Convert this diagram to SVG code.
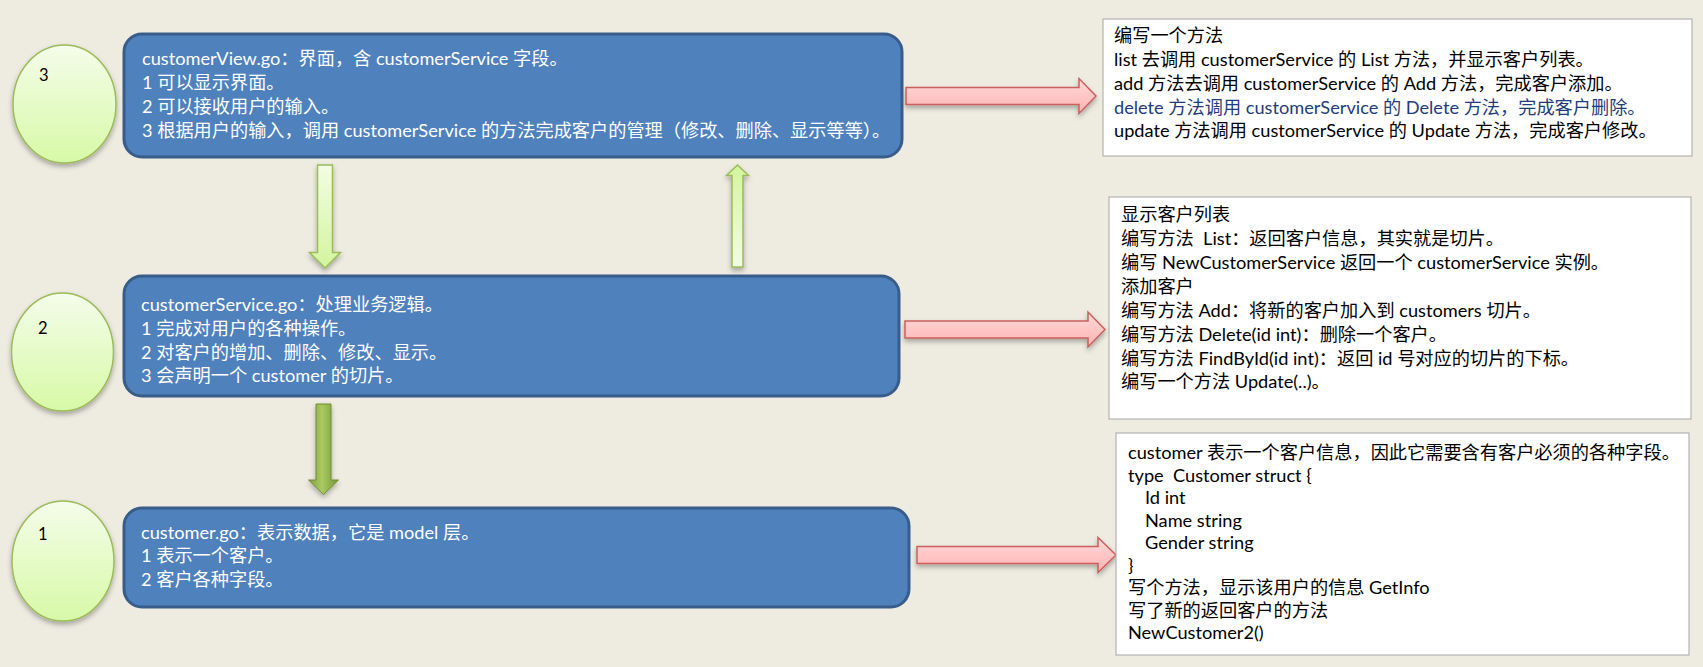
<svg xmlns="http://www.w3.org/2000/svg" width="1703" height="667" viewBox="0 0 1703 667">
<defs>
<linearGradient id="gEll" x1="0" y1="0" x2="0" y2="1">
<stop offset="0" stop-color="#F4FDEA"/><stop offset="1" stop-color="#D7F9A6"/>
</linearGradient>
<linearGradient id="gDown" x1="0" y1="0" x2="0" y2="1">
<stop offset="0" stop-color="#F2FCE4"/><stop offset="1" stop-color="#D3F59E"/>
</linearGradient>
<linearGradient id="gUp" x1="0" y1="1" x2="0" y2="0">
<stop offset="0" stop-color="#F2FCE4"/><stop offset="1" stop-color="#D3F59E"/>
</linearGradient>
<linearGradient id="gDark" x1="0" y1="0" x2="1" y2="0">
<stop offset="0" stop-color="#819F40"/><stop offset="0.45" stop-color="#A8CA5F"/><stop offset="1" stop-color="#77963A"/>
</linearGradient>
<linearGradient id="gPink" x1="0" y1="0" x2="0" y2="1">
<stop offset="0" stop-color="#FFDADA"/><stop offset="0.5" stop-color="#FFC6C6"/><stop offset="1" stop-color="#FFB2B2"/>
</linearGradient>
<filter id="sh" x="-20%" y="-20%" width="140%" height="150%">
<feDropShadow dx="0" dy="3" stdDeviation="2.5" flood-color="#000" flood-opacity="0.3"/>
</filter>
</defs>
<style>
.bg{fill:#EEECE1}
.ell{fill:url(#gEll);stroke:#9BBB59;stroke-width:1.5;filter:url(#sh)}
.box{fill:#4F81BD;stroke:#385D8A;stroke-width:3}
.tb{fill:#FFFFFF;stroke:#A6A6A6;stroke-width:1}
text{font-family:Lato,"Noto Sans CJK SC",sans-serif;font-size:18.2px;white-space:pre}
.wt{fill:#FFFFFF}
.bk{fill:#000000}
.nv{fill:#1F3C7A}
.num{fill:#000000;font-size:16.5px}
.pink{fill:url(#gPink);stroke:#C9605D;stroke-width:1.5;filter:url(#sh)}
.lg{stroke:#9BBB59;stroke-width:1.5;filter:url(#sh)}
.dg{fill:url(#gDark);stroke:#6E8C35;stroke-width:1;filter:url(#sh)}
</style>
<rect class="bg" x="0" y="0" width="1703" height="667"/>

<g id="connectors">
<path class="pink" d="M906,87.5 H1079 V78.5 L1096,96 L1079,113.5 V104.5 H906 Z"/>
<path class="pink" d="M905,321 H1088 V312 L1105,329.5 L1088,347 V338 H905 Z"/>
<path class="pink" d="M917,546.5 H1098 V537.5 L1116,555 L1098,572.5 V563.5 H917 Z"/>
<path class="lg" fill="url(#gDown)" d="M317.5,165 H332.5 V252.5 H340.5 L325,268 L309.5,252.5 H317.5 Z"/>
<path class="lg" fill="url(#gUp)" d="M737.5,165 L748.5,175.5 H743 V267 H732 V175.5 H726.5 Z"/>
<path class="dg" d="M316,404 H331 V480 H338.5 L323.5,494.5 L308.5,480 H316 Z"/>
</g>

<g id="ellipse3"><ellipse class="ell" cx="64.5" cy="104" rx="51.5" ry="59"/><text class="num" x="39" y="81">3</text></g>
<g id="ellipse2"><ellipse class="ell" cx="62.5" cy="352" rx="51" ry="59"/><text class="num" x="38" y="334">2</text></g>
<g id="ellipse1"><ellipse class="ell" cx="63" cy="561" rx="51" ry="60"/><text class="num" x="38" y="540">1</text></g>

<g id="customerView">
<rect class="box" x="124" y="34" width="778" height="123" rx="18"/>
<text class="wt" x="142" y="65">customerView.go：界面，含 customerService 字段。</text>
<text class="wt" x="142" y="89">1 可以显示界面。</text>
<text class="wt" x="142" y="113">2 可以接收用户的输入。</text>
<text class="wt" x="142" y="137">3 根据用户的输入，调用 customerService 的方法完成客户的管理（修改、删除、显示等等）。</text>
</g>

<g id="customerService">
<rect class="box" x="124" y="276" width="775" height="120" rx="18"/>
<text class="wt" x="141" y="311">customerService.go：处理业务逻辑。</text>
<text class="wt" x="141" y="335">1 完成对用户的各种操作。</text>
<text class="wt" x="141" y="358.5">2 对客户的增加、删除、修改、显示。</text>
<text class="wt" x="141" y="382">3 会声明一个 customer 的切片。</text>
</g>

<g id="customer">
<rect class="box" x="124" y="508" width="785" height="99" rx="18"/>
<text class="wt" x="141" y="539">customer.go：表示数据，它是 model 层。</text>
<text class="wt" x="141" y="562">1 表示一个客户。</text>
<text class="wt" x="141" y="586">2 客户各种字段。</text>
</g>

<g id="viewMethods">
<rect class="tb" x="1103" y="19" width="589" height="137"/>
<text class="bk" x="1114" y="42">编写一个方法</text>
<text class="bk" x="1114" y="66">list 去调用 customerService 的 List 方法，并显示客户列表。</text>
<text class="bk" x="1114" y="90">add 方法去调用 customerService 的 Add 方法，完成客户添加。</text>
<text class="nv" x="1114" y="114">delete 方法调用 customerService 的 Delete 方法，完成客户删除。</text>
<text class="bk" x="1114" y="137">update 方法调用 customerService 的 Update 方法，完成客户修改。</text>
</g>

<g id="serviceMethods">
<rect class="tb" x="1109" y="197" width="582" height="222"/>
<text class="bk" x="1121" y="221">显示客户列表</text>
<text class="bk" x="1121" y="245">编写方法  List：返回客户信息，其实就是切片。</text>
<text class="bk" x="1121" y="269">编写 NewCustomerService 返回一个 customerService 实例。</text>
<text class="bk" x="1121" y="293">添加客户</text>
<text class="bk" x="1121" y="317">编写方法 Add：将新的客户加入到 customers 切片。</text>
<text class="bk" x="1121" y="341">编写方法 Delete(id int)：删除一个客户。</text>
<text class="bk" x="1121" y="365">编写方法 FindById(id int)：返回 id 号对应的切片的下标。</text>
<text class="bk" x="1121" y="388">编写一个方法 Update(..)。</text>
</g>

<g id="customerModel">
<rect class="tb" x="1116" y="433" width="573" height="222"/>
<text class="bk" x="1128" y="459">customer 表示一个客户信息，因此它需要含有客户必须的各种字段。</text>
<text class="bk" x="1128" y="481.5">type  Customer struct {</text>
<text class="bk" x="1145" y="504">Id int</text>
<text class="bk" x="1145" y="526.5">Name string</text>
<text class="bk" x="1145" y="549">Gender string</text>
<text class="bk" x="1128" y="571.5">}</text>
<text class="bk" x="1128" y="594">写个方法，显示该用户的信息 GetInfo</text>
<text class="bk" x="1128" y="616.5">写了新的返回客户的方法</text>
<text class="bk" x="1128" y="639">NewCustomer2()</text>
</g>
</svg>
